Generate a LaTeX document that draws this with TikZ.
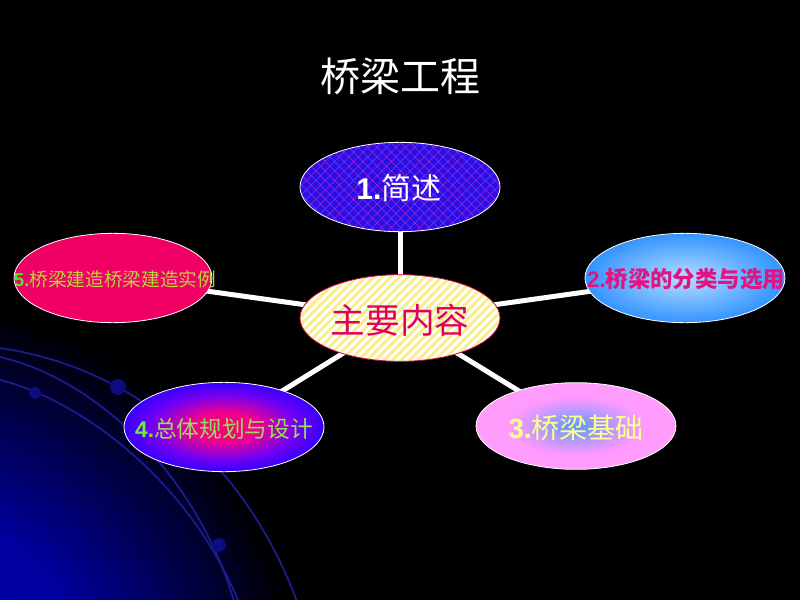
\documentclass[tikz,border=0pt]{standalone}
\usepackage{fontspec}
\setmainfont{Liberation Sans}
\newfontfamily\cjk{Noto Sans CJK SC}
\usetikzlibrary{shapes.geometric,patterns.meta}
\pgfdeclarelayer{bg}
\pgfdeclarelayer{links}
\pgfsetlayers{bg,links,main}
\definecolor{arcblue}{RGB}{28,28,145}
\definecolor{dotblue}{RGB}{12,12,125}
\definecolor{eoneblue}{RGB}{40,15,230}
\definecolor{eonepat}{RGB}{160,40,215}
\definecolor{cyellow}{RGB}{248,238,140}
\definecolor{cborder}{RGB}{200,0,80}
\definecolor{ctext}{RGB}{225,0,90}
\definecolor{efivefill}{RGB}{240,0,100}
\definecolor{twotext}{RGB}{225,20,130}
\definecolor{threetext}{RGB}{255,255,140}
\definecolor{fournum}{RGB}{100,240,60}
\definecolor{fourtext}{RGB}{150,225,90}
\definecolor{fivenum}{RGB}{80,230,40}
\definecolor{fivetext}{RGB}{190,210,60}
\pgfdeclareradialshading{glowshade}{\pgfpoint{0bp}{0bp}}{rgb(0bp)=(0,0,0.68);rgb(12bp)=(0,0,0.62);rgb(25bp)=(0,0,0);rgb(50bp)=(0,0,0)}
\pgfdeclareradialshading{twoshade}{\pgfpoint{0bp}{0bp}}{rgb(0bp)=(0.72,0.87,1);rgb(25bp)=(0.2,0.58,1);rgb(50bp)=(0.2,0.58,1)}
\pgfdeclareradialshading{threeshade}{\pgfpoint{0bp}{0bp}}{rgb(0bp)=(0.35,0.6,1);rgb(11bp)=(0.8,0.6,1);rgb(17bp)=(1,0.6,1);rgb(25bp)=(1,0.62,0.98);rgb(50bp)=(1,0.62,0.98)}
\pgfdeclareradialshading{fourshade}{\pgfpoint{0bp}{0bp}}{rgb(0bp)=(1,0,0.42);rgb(8bp)=(0.95,0,0.55);rgb(18bp)=(0.45,0,0.95);rgb(25bp)=(0.22,0,1);rgb(50bp)=(0.22,0,1)}
\begin{document}
\begin{tikzpicture}[x=0.75pt,y=-0.75pt,
  bub/.style={ellipse, minimum width=150pt, minimum height=67pt, inner sep=0pt, draw=white, line width=0.6pt},
  link/.style={white, line width=3.75pt},
  arcline/.style={draw=arcblue, line width=1.3pt},
  lbl/.style={inner sep=0pt, anchor=center}]
\useasboundingbox (0,0) rectangle (800,600);
\begin{pgfonlayer}{bg}
  \fill[black] (0,0) rectangle (800,600);
  \begin{scope}
    \clip (0,0) rectangle (800,600);
    \shade[shading=glowshade] (-100,700) circle [radius=400];
    \draw[arcline] (0,348) .. controls (150,370) and (255,480) .. (300,610);
    \draw[arcline] (0,357) .. controls (100,380) and (200,480) .. (235,605);
    \draw[arcline] (0,380) .. controls (80,400) and (190,480) .. (240,605);
    \fill[dotblue] (118,387) circle [radius=8];
    \fill[dotblue] (35,393) circle [radius=6];
    \fill[dotblue] (219,545) circle [radius=7];
  \end{scope}
\end{pgfonlayer}

\node[bub, preaction={fill=eoneblue}, pattern={Hatch[distance=5pt,angle=45,line width=0.4pt]}, pattern color=eonepat] (e1) at (400,187) {};
\node[bub, minimum height=65pt, draw=cborder, preaction={fill=white}, pattern={Lines[angle=45,distance=4.5pt,line width=2.2pt]}, pattern color=cyellow] (c) at (400,318) {};
\node[bub, minimum width=148.5pt, fill=efivefill] (e5) at (113,278) {};
\node[bub, shading=twoshade] (e2) at (685,278) {};
\node[bub, minimum height=65pt, shading=threeshade] (e3) at (576,426) {};
\node[bub, shading=fourshade] (e4) at (224,427) {};

\begin{pgfonlayer}{links}
  \draw[link] (c.center) -- (e1.center);
  \draw[link] (c.center) -- (e2.center);
  \draw[link] (c.center) -- (e3.center);
  \draw[link] (c.center) -- (e4.center);
  \draw[link] (c.center) -- (e5.center);
\end{pgfonlayer}

\node[lbl, text=white] (title) at (400,76) {\fontsize{30}{36}\selectfont\cjk 桥梁工程};
\node[lbl, text=white] (t1) at (399,188) {\fontsize{22.5}{27}\selectfont\textbf{1.}{\cjk 简述}};
\node[lbl, text=ctext] (tc) at (400,320) {\fontsize{26}{31}\selectfont\cjk 主要内容};
\node[lbl, text=twotext] (t2) at (686,279) {\fontsize{16.8}{20}\selectfont\textbf{2.}{\cjk\bfseries 桥梁的分类与选用}};
\node[lbl, text=threetext] (t3) at (576,428) {\fontsize{21}{25}\selectfont\textbf{3.}{\cjk 桥梁基础}};
\node[lbl] (t4) at (224,429) {\fontsize{17}{20}\selectfont\textcolor{fournum}{\textbf{4.}}\textcolor{fourtext}{\cjk 总体规划与设计}};
\node[lbl] (t5) at (115,279) {\fontsize{14}{17}\selectfont\textcolor{fivenum}{\textbf{5.}}\textcolor{fivetext}{\cjk 桥梁建造桥梁建造实例}};
\end{tikzpicture}
\end{document}
